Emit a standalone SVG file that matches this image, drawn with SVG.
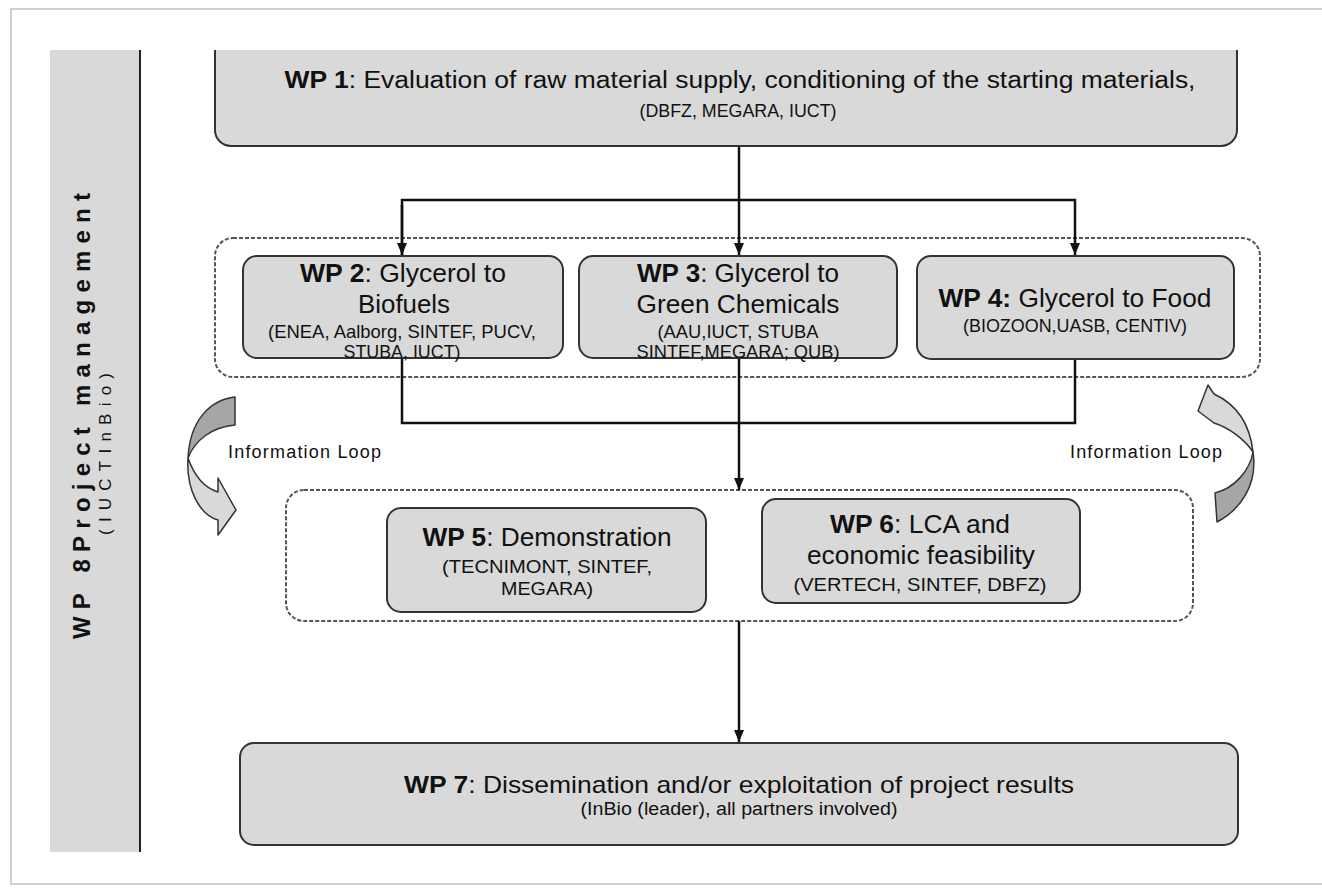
<svg xmlns="http://www.w3.org/2000/svg" width="1322" height="889" viewBox="0 0 1322 889">
<style>
.box{fill:#d9d9d9;stroke:#333;stroke-width:2}
.dash{fill:none;stroke:#555;stroke-width:2;stroke-dasharray:4 2}
.t{font-family:"Liberation Sans",Arial,sans-serif;fill:#111;text-anchor:middle}
.h{font-size:26px}
.s{font-size:18px}
.m{font-size:19px}
.b{font-weight:bold}
.c{fill:none;stroke:#111;stroke-width:2.5}
.dk{fill:#a6a6a6;stroke:#333;stroke-width:1.5;stroke-linejoin:round}
.lt{fill:#d9d9d9;stroke:#333;stroke-width:1.5;stroke-linejoin:round}
</style>
<defs>
<marker id="ah" markerUnits="userSpaceOnUse" markerWidth="12" markerHeight="12" refX="12" refY="5" orient="auto">
<path d="M0,0 L12,5 L0,10 Z" fill="#111"/>
</marker>
<clipPath id="top"><rect x="0" y="50" width="1322" height="839"/></clipPath>
</defs>
<rect x="0" y="0" width="1322" height="889" fill="#fff"/>
<rect x="11" y="9" width="1330" height="875" fill="none" stroke="#d0d0d0" stroke-width="2"/>

<g id="wp8">
<rect x="50" y="50" width="90" height="802" fill="#d9d9d9"/>
<line x1="140" y1="50" x2="140" y2="852" stroke="#222" stroke-width="2"/>
<text class="t b" font-size="24" transform="translate(90,416) rotate(-90)" textLength="446" lengthAdjust="spacing">WP 8Project management</text>
<text class="t" font-size="17" transform="translate(111,454) rotate(-90)" textLength="162" lengthAdjust="spacing">(IUCTInBio)</text>
</g>

<g id="group-mid"><rect class="dash" x="215" y="238" width="1045" height="139" rx="18"/></g>
<g id="group-low"><rect class="dash" x="286" y="490" width="907" height="131" rx="18"/></g>

<g id="connectors">
<line class="c" x1="739" y1="146" x2="739" y2="255" marker-end="url(#ah)"/>
<polyline class="c" points="402,255 402,200 1075,200 1075,255" marker-end="url(#ah)"/>
<line class="c" x1="402" y1="205" x2="402" y2="255" marker-end="url(#ah)"/>
<polyline class="c" points="402,358 402,423 1075,423 1075,359"/>
<line class="c" x1="739" y1="358" x2="739" y2="490" marker-end="url(#ah)"/>
<line class="c" x1="739" y1="621" x2="739" y2="742" marker-end="url(#ah)"/>
</g>

<g id="wp1" clip-path="url(#top)">
<rect class="box" x="215" y="30" width="1022" height="116" rx="16"/>
<text class="t" font-size="23" x="740" y="88" textLength="911" lengthAdjust="spacingAndGlyphs"><tspan class="b">WP 1</tspan>: Evaluation of raw material supply, conditioning of the starting materials,</text>
<text class="t" font-size="18" x="738" y="117" textLength="197" lengthAdjust="spacingAndGlyphs">(DBFZ, MEGARA, IUCT)</text>
</g>

<g id="wp2">
<rect class="box" x="243" y="256" width="320" height="102" rx="14"/>
<text class="t h" x="403" y="282" textLength="206" lengthAdjust="spacingAndGlyphs"><tspan class="b">WP 2</tspan>: Glycerol to</text>
<text class="t h" x="404" y="313" textLength="92" lengthAdjust="spacingAndGlyphs">Biofuels</text>
<text class="t s" x="402" y="338" textLength="268" lengthAdjust="spacingAndGlyphs">(ENEA, Aalborg, SINTEF, PUCV,</text>
<text class="t s" x="402" y="358" textLength="117" lengthAdjust="spacingAndGlyphs">STUBA, IUCT)</text>
</g>

<g id="wp3">
<rect class="box" x="579" y="256" width="318" height="102" rx="14"/>
<text class="t h" x="738" y="282" textLength="202" lengthAdjust="spacingAndGlyphs"><tspan class="b">WP 3</tspan>: Glycerol to</text>
<text class="t h" x="738" y="313" textLength="203" lengthAdjust="spacingAndGlyphs">Green Chemicals</text>
<text class="t s" x="738" y="338" textLength="161" lengthAdjust="spacingAndGlyphs">(AAU,IUCT, STUBA</text>
<text class="t s" x="738" y="358" textLength="203" lengthAdjust="spacingAndGlyphs">SINTEF,MEGARA; QUB)</text>
</g>

<g id="wp4">
<rect class="box" x="917" y="256" width="317" height="103" rx="14"/>
<text class="t h" x="1075" y="307" textLength="273" lengthAdjust="spacingAndGlyphs"><tspan class="b">WP 4:</tspan> Glycerol to Food</text>
<text class="t s" x="1075" y="332" textLength="224" lengthAdjust="spacingAndGlyphs">(BIOZOON,UASB, CENTIV)</text>
</g>

<g id="wp5">
<rect class="box" x="387" y="508" width="319" height="104" rx="14"/>
<text class="t h" x="547" y="546" textLength="249" lengthAdjust="spacingAndGlyphs"><tspan class="b">WP 5</tspan>: Demonstration</text>
<text class="t m" x="547" y="573" textLength="210" lengthAdjust="spacingAndGlyphs">(TECNIMONT, SINTEF,</text>
<text class="t m" x="547" y="595" textLength="92" lengthAdjust="spacingAndGlyphs">MEGARA)</text>
</g>

<g id="wp6">
<rect class="box" x="762" y="499" width="318" height="104" rx="14"/>
<text class="t h" x="920" y="533" textLength="180" lengthAdjust="spacingAndGlyphs"><tspan class="b">WP 6</tspan>: LCA and</text>
<text class="t h" x="921" y="564" textLength="228" lengthAdjust="spacingAndGlyphs">economic feasibility</text>
<text class="t m" x="920" y="591" textLength="253" lengthAdjust="spacingAndGlyphs">(VERTECH, SINTEF, DBFZ)</text>
</g>

<g id="wp7">
<rect class="box" x="240" y="743" width="998" height="102" rx="14"/>
<text class="t" font-size="24" x="739" y="793" textLength="670" lengthAdjust="spacingAndGlyphs"><tspan class="b">WP 7</tspan>: Dissemination and/or exploitation of project results</text>
<text class="t" font-size="18" x="739" y="815" textLength="317" lengthAdjust="spacingAndGlyphs">(InBio (leader), all partners involved)</text>
</g>

<g id="loop-left">
<path class="dk" d="M235,397 C210,400 190,420 188,458 C195,440 212,427 235,425 Z"/>
<path class="lt" d="M188,458 C195,478 205,488 218,492 L218,478 L236,510 L218,535 L218,520 C200,515 186,490 188,458 Z"/>
<text class="t" font-size="18" x="228" y="458" style="text-anchor:start" textLength="153" lengthAdjust="spacing">Information  Loop</text>
</g>

<g id="loop-right">
<path class="dk" d="M1253,452 C1258,485 1240,510 1217,522 L1215,493 C1235,488 1250,470 1253,452 Z"/>
<path class="lt" d="M1253,452 C1250,425 1238,405 1214,394 L1208,385 L1198,411 L1214,423 C1230,428 1245,440 1253,452 Z"/>
<text class="t" font-size="18" x="1070" y="458" style="text-anchor:start" textLength="152" lengthAdjust="spacing">Information  Loop</text>
</g>
</svg>
